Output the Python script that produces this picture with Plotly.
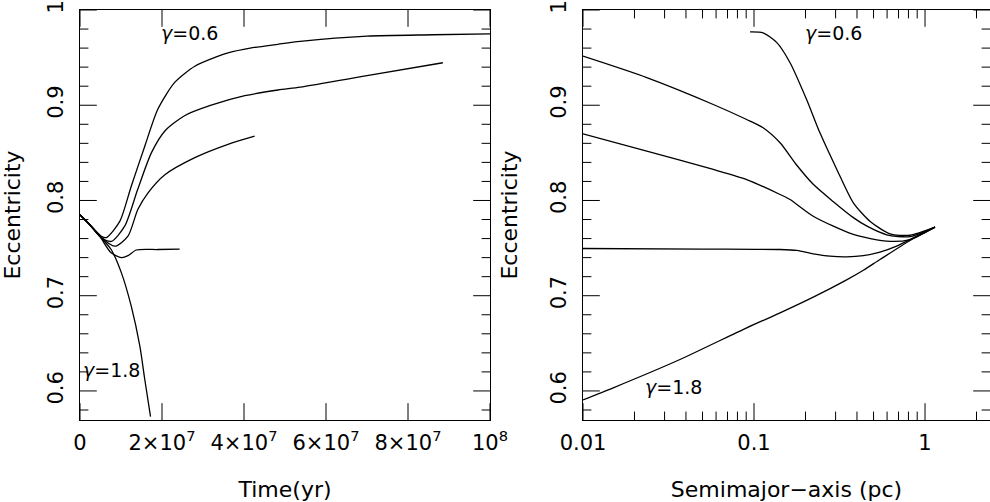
import plotly.graph_objects as go

# ---------------- data (left panel: time in units of 1e7 yr) ----------------
tA = [0, 0.25, 0.52, 0.64, 0.97, 1.25, 1.58, 1.90, 2.31, 2.80, 3.34, 3.61, 4.15, 4.83, 5.37, 7.0, 8.61, 10.0]
eA = [0.785, 0.774, 0.7625, 0.761, 0.778, 0.815, 0.857, 0.896, 0.924, 0.941, 0.951, 0.955, 0.960, 0.964, 0.967, 0.9726, 0.974, 0.975]
tB = [0, 0.25, 0.48, 0.76, 1.09, 1.41, 1.74, 2.07, 2.55, 3.20, 4.02, 4.83, 5.37, 7.0, 8.85]
eB = [0.785, 0.774, 0.7625, 0.757, 0.773, 0.812, 0.850, 0.873, 0.889, 0.900, 0.910, 0.916, 0.919, 0.931, 0.9446]
tC = [0, 0.25, 0.48, 0.85, 1.17, 1.41, 1.66, 2.07, 2.80, 3.61, 4.26]
eC = [0.785, 0.774, 0.7625, 0.752, 0.7625, 0.7905, 0.808, 0.827, 0.845, 0.859, 0.8675]
tD = [0, 0.25, 0.48, 0.76, 1.01, 1.17, 1.37, 1.90, 2.43]
eD = [0.785, 0.774, 0.7625, 0.745, 0.740, 0.742, 0.748, 0.7485, 0.749]
tE = [0, 0.25, 0.48, 0.76, 1.01, 1.25, 1.46, 1.58, 1.72]
eE = [0.785, 0.774, 0.7625, 0.7485, 0.724, 0.689, 0.647, 0.612, 0.573]
time_series = [(tA, eA), (tB, eB), (tC, eC), (tD, eD), (tE, eE)]

# ---------------- data (right panel: semimajor axis in pc) ----------------
aA = [0.0948, 0.113, 0.136, 0.1625, 0.203, 0.243, 0.305, 0.381, 0.478, 0.624, 0.817, 1.144]
fA = [0.977, 0.976, 0.9657, 0.9446, 0.906, 0.871, 0.8326, 0.7975, 0.778, 0.765, 0.7635, 0.772]
aB = [0.01, 0.0236, 0.0578, 0.0906, 0.113, 0.142, 0.178, 0.222, 0.290, 0.381, 0.458, 0.597, 0.817, 1.144]
fB = [0.9515, 0.929, 0.9008, 0.885, 0.8764, 0.8606, 0.837, 0.817, 0.799, 0.782, 0.773, 0.764, 0.762, 0.772]
aC = [0.01, 0.0236, 0.0578, 0.0906, 0.142, 0.1625, 0.222, 0.381, 0.597, 0.817, 1.144]
fC = [0.870, 0.8518, 0.8326, 0.822, 0.8063, 0.801, 0.7835, 0.7643, 0.7573, 0.759, 0.772]
aD = [0.01, 0.05, 0.142, 0.178, 0.222, 0.278, 0.348, 0.436, 0.545, 0.682, 0.855, 1.144]
fD = [0.7496, 0.749, 0.7485, 0.7475, 0.744, 0.7415, 0.7408, 0.742, 0.7457, 0.752, 0.7608, 0.772]
aE = [0.01, 0.01503, 0.0369, 0.0906, 0.142, 0.222, 0.348, 0.436, 0.545, 0.855, 1.144]
fE = [0.5906, 0.6033, 0.633, 0.6663, 0.682, 0.6985, 0.7167, 0.7268, 0.738, 0.7601, 0.772]
semi_series = [(aA, fA), (aB, fB), (aC, fC), (aD, fD), (aE, fE)]

# ---------------- ticks ----------------
time_tickvals = [0, 2e7, 4e7, 6e7, 8e7, 1e8]
time_ticktext = ["0", "2×10<sup>7</sup>", "4×10<sup>7</sup>", "6×10<sup>7</sup>",
                 "8×10<sup>7</sup>", "10<sup>8</sup>"]
semi_tickvals = [0.01, 0.1, 1]
semi_ticktext = ["0.01", "0.1", "1"]
semi_minorvals = [0.02, 0.03, 0.04, 0.05, 0.06, 0.07, 0.08, 0.09,
                  0.2, 0.3, 0.4, 0.5, 0.6, 0.7, 0.8, 0.9, 2]
ecc_tickvals = [0.6, 0.7, 0.8, 0.9, 1.0]
ecc_ticktext = ["0.6", "0.7", "0.8", "0.9", "1"]
ecc_minorvals = [0.58, 0.62, 0.64, 0.66, 0.68, 0.72, 0.74, 0.76, 0.78,
                 0.82, 0.84, 0.86, 0.88, 0.92, 0.94, 0.96, 0.98]

FONT = "DejaVu Sans"
TF = dict(family=FONT, size=22, color="black")
LINE = dict(color="black", width=1.3, shape="spline", smoothing=0.7)
MAJOR_LEN, MINOR_LEN = 12, 6
D1 = [0.0, 410 / 910]
D2 = [(583 - 80) / 910, 1.0]
XR1 = [0, 1e8]
XR2 = [-2, 0.38]          # log10 range of the semimajor axis
YR = [0.5695, 1.0]

fig = go.Figure()
for t, e in time_series:
    fig.add_trace(go.Scatter(x=[v * 1e7 for v in t], y=e, mode="lines", line=LINE,
                             xaxis="x", yaxis="y", showlegend=False, hoverinfo="skip"))
for a, f in semi_series:
    fig.add_trace(go.Scatter(x=a, y=f, mode="lines", line=LINE,
                             xaxis="x2", yaxis="y2", showlegend=False, hoverinfo="skip"))


def tick_marks(xa, ya, vals, edge_lo, edge_hi, along_x, length):
    """Inward tick marks: line symbols centred on the frame edges; the half that
    falls outside the plotting area is clipped, leaving `length` px inside."""
    for edge in (edge_lo, edge_hi):
        if along_x:
            xs, ys, sym = vals, [edge] * len(vals), "line-ns"
        else:
            xs, ys, sym = [edge] * len(vals), vals, "line-ew"
        fig.add_trace(go.Scatter(
            x=xs, y=ys, mode="markers", xaxis=xa, yaxis=ya, cliponaxis=True,
            marker=dict(symbol=sym, size=2 * length, color="black",
                        line=dict(color="black", width=1)),
            showlegend=False, hoverinfo="skip"))


# left panel
tick_marks("x", "y", time_tickvals, YR[0], YR[1], True, MAJOR_LEN)
tick_marks("x", "y", ecc_tickvals, XR1[0], XR1[1], False, MAJOR_LEN)
tick_marks("x", "y", ecc_minorvals, XR1[0], XR1[1], False, MINOR_LEN)
# right panel
tick_marks("x2", "y2", semi_tickvals, YR[0], YR[1], True, MAJOR_LEN)
tick_marks("x2", "y2", semi_minorvals, YR[0], YR[1], True, MINOR_LEN)
tick_marks("x2", "y2", ecc_tickvals, 10 ** XR2[0], 10 ** XR2[1], False, MAJOR_LEN)
tick_marks("x2", "y2", ecc_minorvals, 10 ** XR2[0], 10 ** XR2[1], False, MINOR_LEN)

main = dict(showline=True, linecolor="black", linewidth=1, mirror=True,
            ticks="", showgrid=False, zeroline=False, automargin=False,
            ticklabeloverflow="allow", fixedrange=True,
            tickfont=dict(family=FONT, size=21, color="black"))

fig.update_layout(
    template="none",
    width=990, height=502,
    margin=dict(l=80, r=0, t=10, b=82),
    paper_bgcolor="white", plot_bgcolor="white",
    font=dict(family=FONT, color="black"),
    xaxis=dict(main, domain=D1, range=XR1, tickmode="array", anchor="y",
               tickvals=time_tickvals, ticktext=time_ticktext, ticklabelstandoff=4,
               title=dict(text="Time(yr)", font=TF, standoff=28)),
    yaxis=dict(main, anchor="x", range=YR, tickmode="array", tickvals=ecc_tickvals,
               ticktext=ecc_ticktext, tickangle=-90, ticklabelstandoff=8,
               title=dict(text="Eccentricity", font=TF, standoff=22)),
    xaxis2=dict(main, domain=D2, type="log", range=XR2, tickmode="array", anchor="y2",
                tickvals=semi_tickvals, ticktext=semi_ticktext, ticklabelstandoff=4,
                title=dict(text="Semimajor−axis (pc)", font=TF, standoff=28)),
    yaxis2=dict(main, anchor="x2", range=YR, tickmode="array", tickvals=ecc_tickvals,
                ticktext=ecc_ticktext, tickangle=-90, ticklabelstandoff=8,
                title=dict(text="Eccentricity", font=TF, standoff=22)),
)

ann = [
    ("x", "y", 2.66e7, 0.976, "<i>γ</i>=0.6"),
    ("x", "y", 0.78e7, 0.6225, "<i>γ</i>=1.8"),
    ("x2", "y2", -0.538, 0.976, "<i>γ</i>=0.6"),
    ("x2", "y2", -1.468, 0.6046, "<i>γ</i>=1.8"),
]
for xr, yr, xv, yv, txt in ann:
    fig.add_annotation(xref=xr, yref=yr, x=xv, y=yv, text=txt, showarrow=False,
                       font=dict(family=FONT, size=19, color="black"))

# remove the browser's default 8px page margin so the figure sits at the window origin
fig.write_html("out.html", config={"displayModeBar": False},
               post_script="document.body.style.margin='0px';")
